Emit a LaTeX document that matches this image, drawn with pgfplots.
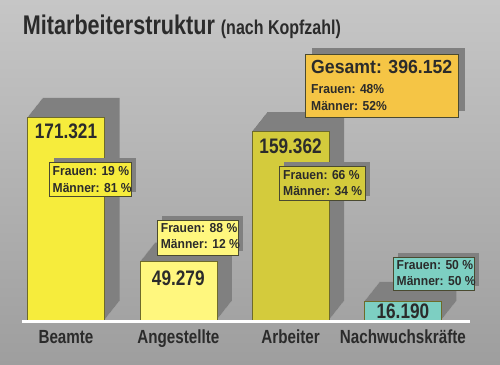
\documentclass[border=0pt]{standalone}
\usepackage{pgfplots}
\usepackage{pgfplotstable}
\pgfplotsset{compat=1.18}
\usepackage{fontspec}
\setmainfont{Liberation Sans}
\newfontfamily\titlefont{Liberation Sans}[FakeStretch=0.8]
\newfontfamily\numfont{Liberation Sans}[FakeStretch=0.82]
\newfontfamily\boxfont{Liberation Sans}[FakeStretch=0.93]
\newfontfamily\gesfont{Liberation Sans}[FakeStretch=0.93]
\definecolor{bgtop}{HTML}{C6C6C6}
\definecolor{bgbot}{HTML}{9E9E9E}
\definecolor{shadow}{HTML}{808080}
\definecolor{cBeamte}{HTML}{F6EC3C}
\definecolor{cAng}{HTML}{FFF77E}
\definecolor{cArb}{HTML}{D4CB3C}
\definecolor{cNach}{HTML}{7DCFC2}
\definecolor{cGes}{HTML}{F5C545}
\definecolor{edge}{HTML}{6E6A2A}
\definecolor{boxborder}{HTML}{4A4A30}
\definecolor{txt}{HTML}{2B2B2B}
\pgfplotstableread{
x y
0 171321
1 49279
2 159362
3 16190
}\staff
\begin{document}
\begin{tikzpicture}
\shade[top color=bgtop, bottom color=bgbot] (0bp,-45bp) rectangle (500bp,320bp);
\begin{axis}[at={(0bp,0bp)}, anchor=south west, scale only axis,
  width=500bp, height=320bp,
  xmin=-0.5877, xmax=3.8646, ymin=0, ymax=270042,
  axis line style={draw=none}, major tick style={draw=none},
  ytick=\empty, xtick={0,1,2,3},
  xticklabels={Beamte,Angestellte,Arbeiter,Nachwuchskräfte},
  xticklabel style={font=\titlefont\bfseries\fontsize{19bp}{22bp}\selectfont, text=txt, inner sep=0pt, anchor=north, yshift=-10bp},
  clip=false,
  every axis plot/.append style={ybar, bar width=77bp, bar shift=0pt},
  nodes near coords={\pgfmathprintnumber[assume math mode=true,fixed,precision=0,1000 sep={.}]{\pgfplotspointmeta}},
  every node near coord/.style={font=\numfont\bfseries\fontsize{21bp}{24bp}\selectfont, text=txt, anchor=north, inner sep=0pt, yshift=-7bp},
]
\pgfplotsinvokeforeach{1,...,19}{
  \addplot[fill=shadow, draw=none, nodes near coords={}, shift={({#1*15/19*1bp},{#1*1bp})}] table[x=x,y=y]{\staff};
}
\addplot[fill=cBeamte, draw=edge, line width=0.5bp] coordinates {(0,171321)};
\addplot[fill=cAng, draw=edge, line width=0.5bp, every node near coord/.append style={yshift=-2bp}] coordinates {(1,49279)};
\addplot[fill=cArb, draw=edge, line width=0.5bp] coordinates {(2,159362)};
\addplot[fill=cNach, draw=edge, line width=0.5bp, every node near coord/.append style={yshift=4bp}] coordinates {(3,16190)};
\draw[white, line width=3bp] ([yshift=-1.5bp]axis cs:-0.392,0) -- ([yshift=-1.5bp]axis cs:3.598,0);
\end{axis}
% title
\node[anchor=base west, inner sep=0pt, text=txt, font=\titlefont\bfseries\fontsize{27bp}{30bp}\selectfont] at (22.7bp,285.7bp) {Mitarbeiterstruktur};
\node[anchor=base west, inner sep=0pt, text=txt, font=\titlefont\bfseries\fontsize{20bp}{22bp}\selectfont] at (220.7bp,285.7bp) {(nach Kopfzahl)};
% box shadows
\fill[shadow] (54bp,128bp) rectangle (136bp,162bp);
\fill[shadow] (162bp,69bp) rectangle (243bp,104bp);
\fill[shadow] (284bp,124bp) rectangle (370bp,158bp);
\fill[shadow] (398bp,34bp) rectangle (479bp,67bp);
\fill[shadow] (312bp,209bp) rectangle (465bp,272bp);
% boxes
\filldraw[fill=cBeamte, draw=boxborder, line width=0.8bp] (49bp,124bp) rectangle (131bp,158bp);
\filldraw[fill=cAng, draw=boxborder, line width=0.8bp] (157bp,65bp) rectangle (238bp,100bp);
\filldraw[fill=cArb, draw=boxborder, line width=0.8bp] (279bp,120bp) rectangle (365bp,154bp);
\filldraw[fill=cNach, draw=boxborder, line width=0.8bp] (393bp,30bp) rectangle (474bp,63bp);
\filldraw[fill=cGes, draw=boxborder, line width=0.8bp] (305bp,203bp) rectangle (458bp,266bp);
% box texts
\begin{scope}[every node/.style={anchor=base west, inner sep=0pt, text=txt, font=\boxfont\bfseries\fontsize{13bp}{15bp}\selectfont}]
\node at (52.5bp,144.3bp) {Frauen: 19 \%};
\node at (52.5bp,127.5bp) {Männer: 81 \%};
\node at (160.7bp,87.3bp) {Frauen: 88 \%};
\node at (160.7bp,71.5bp) {Männer: 12 \%};
\node at (283bp,140.5bp) {Frauen: 66 \%};
\node at (283bp,124.5bp) {Männer: 34 \%};
\node at (396.5bp,50.5bp) {Frauen: 50 \%};
\node at (396.5bp,34.5bp) {Männer: 50 \%};
\node at (311bp,226bp) {Frauen: 48\%};
\node at (311bp,209bp) {Männer: 52\%};
\end{scope}
\node[anchor=base west, inner sep=0pt, text=txt, font=\gesfont\bfseries\fontsize{19bp}{22bp}\selectfont] at (311bp,246bp) {Gesamt: 396.152};
\pgfresetboundingbox
\path[use as bounding box] (0bp,-45bp) rectangle (500bp,320bp);
\end{tikzpicture}
\end{document}
